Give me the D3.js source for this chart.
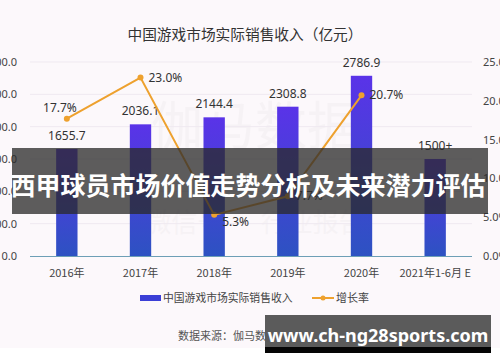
<!DOCTYPE html>
<html>
<head>
  <meta charset="utf-8">
  <style>
    body { margin: 0; background: #ffffff; }
    svg { display: block; font-family: "Noto Sans CJK SC", "Noto Sans", sans-serif; }
  </style>
  <script src="https://d3js.org/d3.v7.min.js"></script>
</head>
<body>
  <div id="chart"></div>
  <script>
    // 数据
    var years = ["2016年", "2017年", "2018年", "2019年", "2020年", "2021年1-6月 E"];
    var revenue = [1655.7, 2036.1, 2144.4, 2308.8, 2786.9, 1500];
    var revenueLabels = ["1655.7", "2036.1", "2144.4", "2308.8", "2786.9", "1500+"];
    var growth = [17.7, 23.0, 5.3, 7.7, 20.7];
    var leftTicks = [0, 500, 1000, 1500, 2000, 2500, 3000];
    var rightTicks = [0, 5, 10, 15, 20, 25];
    var seriesNames = ["中国游戏市场实际销售收入", "增长率"];
    var chartTitle = "中国游戏市场实际销售收入（亿元）";
    var sourceText = "数据来源：伽马数据（CNG）";
    var bannerText = "西甲球员市场价值走势分析及未来潜力评估";
    var siteText = "www.ch-ng28sports.com";

    var width = 500, height = 362;
    var plotLeft = 30, plotRight = 472, plotTop = 62, plotBase = 256;

    var svg = d3.select("#chart").append("svg")
      .attr("width", width)
      .attr("height", height);

    var defs = svg.append("defs");
    var grad = defs.append("linearGradient")
      .attr("id", "barGrad")
      .attr("x1", 0).attr("y1", 0).attr("x2", 0).attr("y2", 1);
    grad.append("stop").attr("offset", "0%").attr("stop-color", "#5a33e8");
    grad.append("stop").attr("offset", "100%").attr("stop-color", "#2d52c2");

    // 背景
    svg.append("rect")
      .attr("x", 0).attr("y", 0)
      .attr("width", width).attr("height", 348)
      .attr("fill", "#fcf8fb");

    // 淡水印
    svg.append("text")
      .attr("x", 255).attr("y", 145)
      .attr("text-anchor", "middle")
      .attr("font-size", 52)
      .attr("fill", "#000")
      .attr("opacity", 0.02)
      .text("伽马数据");
    svg.append("text")
      .attr("x", 255).attr("y", 232)
      .attr("text-anchor", "middle")
      .attr("font-size", 26)
      .attr("fill", "#000")
      .attr("opacity", 0.02)
      .text("微信号 · 行业报告");

    var x = d3.scaleBand()
      .domain(years)
      .range([plotLeft, plotRight])
      .paddingInner(0.71)
      .paddingOuter(0.355);

    var yLeft = d3.scaleLinear().domain([0, 3000]).range([plotBase, plotTop]);
    var yRight = d3.scaleLinear().domain([0, 25]).range([plotBase, plotTop]);

    // 网格线
    svg.append("g")
      .selectAll("line")
      .data(leftTicks.slice(1))
      .enter()
      .append("line")
      .attr("x1", plotLeft).attr("x2", plotRight)
      .attr("y1", function (d) { return yLeft(d); })
      .attr("y2", function (d) { return yLeft(d); })
      .attr("stroke", "#efe9f0")
      .attr("stroke-width", 1);

    // 标题
    svg.append("text")
      .attr("x", 245).attr("y", 40)
      .attr("text-anchor", "middle")
      .attr("font-size", 14.7)
      .attr("fill", "#333")
      .text(chartTitle);

    // 左轴
    var axL = svg.append("g")
      .attr("transform", "translate(17,0)")
      .call(d3.axisLeft(yLeft).tickValues(leftTicks).tickSize(0).tickPadding(0)
        .tickFormat(d3.format(".1f")));
    axL.select(".domain").remove();
    axL.selectAll("text").attr("font-size", 11).attr("fill", "#444")
      .attr("font-family", "\"Noto Sans\", sans-serif");

    // 右轴
    var axR = svg.append("g")
      .attr("transform", "translate(483,0)")
      .call(d3.axisRight(yRight).tickValues(rightTicks).tickSize(0).tickPadding(0)
        .tickFormat(function (d) { return d3.format(".1f")(d) + "%"; }));
    axR.select(".domain").remove();
    axR.selectAll("text").attr("font-size", 11).attr("fill", "#444")
      .attr("font-family", "\"Noto Sans\", sans-serif");

    // 柱子
    svg.append("g")
      .selectAll("rect")
      .data(revenue)
      .enter()
      .append("rect")
      .attr("x", function (d, i) { return x(years[i]); })
      .attr("y", function (d) { return yLeft(d); })
      .attr("width", x.bandwidth())
      .attr("height", function (d) { return plotBase - yLeft(d); })
      .attr("fill", "url(#barGrad)");

    // 底线
    svg.append("line")
      .attr("x1", plotLeft).attr("x2", plotRight)
      .attr("y1", plotBase + 0.5).attr("y2", plotBase + 0.5)
      .attr("stroke", "#6d9fb6")
      .attr("stroke-width", 1.2);

    // 柱子数值
    svg.append("g")
      .selectAll("text")
      .data(revenue)
      .enter()
      .append("text")
      .attr("x", function (d, i) { return x(years[i]) + x.bandwidth() / 2; })
      .attr("y", function (d) { return yLeft(d) - 9; })
      .attr("text-anchor", "middle")
      .attr("font-size", 12)
      .attr("fill", "#333")
      .attr("font-family", "\"Noto Sans\", sans-serif")
      .text(function (d, i) { return revenueLabels[i]; });

    // 增长率折线
    var cx = function (d, i) { return x(years[i]) + x.bandwidth() / 2; };
    var line = d3.line()
      .x(function (d, i) { return cx(d, i); })
      .y(function (d) { return yRight(d); });

    svg.append("path")
      .datum(growth)
      .attr("d", line)
      .attr("fill", "none")
      .attr("stroke", "#eea12e")
      .attr("stroke-width", 2);

    svg.append("g")
      .selectAll("circle")
      .data(growth)
      .enter()
      .append("circle")
      .attr("cx", cx)
      .attr("cy", function (d) { return yRight(d); })
      .attr("r", 3)
      .attr("fill", "#eea12e");

    // 折线标签：第一个放左上，谷值放右下，其余放右侧
    svg.append("g")
      .selectAll("text")
      .data(growth)
      .enter()
      .append("text")
      .attr("x", function (d, i) { return i === 0 ? cx(d, i) + 10 : cx(d, i) + 8; })
      .attr("y", function (d, i) {
        var dy = 4;
        if (i === 0) dy = -7;
        if (d === d3.min(growth)) dy = 11;
        return yRight(d) + dy;
      })
      .attr("text-anchor", function (d, i) { return i === 0 ? "end" : "start"; })
      .attr("font-size", 12)
      .attr("fill", "#333")
      .attr("font-family", "\"Noto Sans\", sans-serif")
      .text(function (d) { return d3.format(".1f")(d) + "%"; });

    // X 轴标签
    var axB = svg.append("g")
      .attr("transform", "translate(0," + (plotBase + 13) + ")")
      .call(d3.axisBottom(x).tickSize(0).tickPadding(0));
    axB.select(".domain").remove();
    axB.selectAll("text").attr("font-size", 11).attr("fill", "#444")
      .attr("font-family", "\"Noto Sans CJK SC\", sans-serif");

    // 图例
    var lg = svg.append("g");
    lg.append("rect")
      .attr("x", 140).attr("y", 295)
      .attr("width", 21).attr("height", 6)
      .attr("fill", "#3b3fd6");
    lg.append("text")
      .attr("x", 163).attr("y", 302)
      .attr("font-size", 10.8).attr("fill", "#444")
      .text(seriesNames[0]);
    lg.append("line")
      .attr("x1", 312).attr("x2", 334)
      .attr("y1", 298).attr("y2", 298)
      .attr("stroke", "#eea12e").attr("stroke-width", 2);
    lg.append("circle")
      .attr("cx", 323).attr("cy", 298).attr("r", 2.5)
      .attr("fill", "#eea12e");
    lg.append("text")
      .attr("x", 336).attr("y", 302)
      .attr("font-size", 11).attr("fill", "#444")
      .text(seriesNames[1]);

    // 数据来源
    svg.append("text")
      .attr("x", 178).attr("y", 340)
      .attr("font-size", 11).attr("fill", "#555")
      .text(sourceText);

    // 中间横幅
    svg.append("rect")
      .attr("x", 12).attr("y", 148)
      .attr("width", 476).attr("height", 66)
      .attr("fill", "rgba(42,42,42,0.76)");
    svg.append("text")
      .attr("x", 248).attr("y", 195)
      .attr("text-anchor", "middle")
      .attr("font-size", 25)
      .attr("font-weight", "bold")
      .attr("fill", "#ffffff")
      .text(bannerText);

    // 网址水印
    svg.append("rect")
      .attr("x", 265).attr("y", 315)
      .attr("width", 226).attr("height", 33)
      .attr("fill", "#5b5b5b");
    svg.append("rect")
      .attr("x", 265).attr("y", 347)
      .attr("width", 226).attr("height", 6)
      .attr("fill", "#050505");
    svg.append("text")
      .attr("x", 378).attr("y", 342)
      .attr("text-anchor", "middle")
      .attr("font-size", 18)
      .attr("font-weight", "bold")
      .attr("fill", "#ffffff")
      .attr("font-family", "\"Noto Sans\", sans-serif")
      .text(siteText);
  </script>
</body>
</html>
